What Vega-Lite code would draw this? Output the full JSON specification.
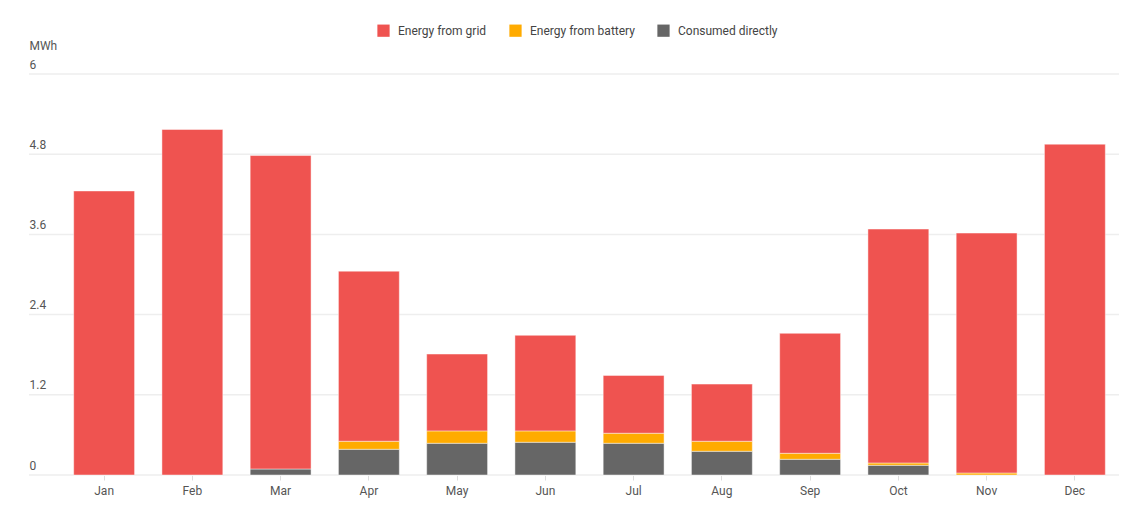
{
  "$schema": "https://vega.github.io/schema/vega-lite/v6.json",
  "width": 1090,
  "height": 401,
  "padding": {"top": 24, "left": 28, "right": 23, "bottom": 10},
  "background": "#ffffff",
  "datasets": {
    "energy": [
      {"month": "Jan", "series": "Energy from grid", "value": 4.25},
      {"month": "Feb", "series": "Energy from grid", "value": 5.17},
      {"month": "Mar", "series": "Consumed directly", "value": 0.09},
      {"month": "Mar", "series": "Energy from grid", "value": 4.69},
      {"month": "Apr", "series": "Consumed directly", "value": 0.385},
      {"month": "Apr", "series": "Energy from battery", "value": 0.12},
      {"month": "Apr", "series": "Energy from grid", "value": 2.545},
      {"month": "May", "series": "Consumed directly", "value": 0.475},
      {"month": "May", "series": "Energy from battery", "value": 0.185},
      {"month": "May", "series": "Energy from grid", "value": 1.15},
      {"month": "Jun", "series": "Consumed directly", "value": 0.49},
      {"month": "Jun", "series": "Energy from battery", "value": 0.17},
      {"month": "Jun", "series": "Energy from grid", "value": 1.43},
      {"month": "Jul", "series": "Consumed directly", "value": 0.475},
      {"month": "Jul", "series": "Energy from battery", "value": 0.15},
      {"month": "Jul", "series": "Energy from grid", "value": 0.865},
      {"month": "Aug", "series": "Consumed directly", "value": 0.355},
      {"month": "Aug", "series": "Energy from battery", "value": 0.15},
      {"month": "Aug", "series": "Energy from grid", "value": 0.855},
      {"month": "Sep", "series": "Consumed directly", "value": 0.235},
      {"month": "Sep", "series": "Energy from battery", "value": 0.09},
      {"month": "Sep", "series": "Energy from grid", "value": 1.795},
      {"month": "Oct", "series": "Consumed directly", "value": 0.145},
      {"month": "Oct", "series": "Energy from battery", "value": 0.035},
      {"month": "Oct", "series": "Energy from grid", "value": 3.5},
      {"month": "Nov", "series": "Energy from battery", "value": 0.03},
      {"month": "Nov", "series": "Energy from grid", "value": 3.59},
      {"month": "Dec", "series": "Energy from grid", "value": 4.95}
    ],
    "gridlines": [
      {"value": 0}, {"value": 1.2}, {"value": 2.4}, {"value": 3.6}, {"value": 4.8}, {"value": 6}
    ]
  },
  "layer": [
    {
      "data": {"name": "gridlines"},
      "mark": {"type": "rule", "color": "#eeeeee", "strokeWidth": 1.5},
      "encoding": {
        "y": {"field": "value", "type": "quantitative"}
      }
    },
    {
      "data": {"name": "energy"},
      "mark": {"type": "bar", "stroke": "#ffffff", "strokeWidth": 1, "strokeOpacity": 0.45},
      "encoding": {
        "x": {
          "field": "month",
          "type": "ordinal",
          "sort": ["Jan", "Feb", "Mar", "Apr", "May", "Jun", "Jul", "Aug", "Sep", "Oct", "Nov", "Dec"],
          "scale": {"range": [31, 1090], "paddingInner": 0.31, "paddingOuter": 0.155},
          "axis": {
            "title": null,
            "domain": false,
            "grid": false,
            "labelAngle": 0,
            "tickSize": 5,
            "tickColor": "#dddddd",
            "labelPadding": 5,
            "labelFont": "Roboto",
            "labelFontSize": 12,
            "labelColor": "#555555"
          }
        },
        "y": {
          "field": "value",
          "type": "quantitative",
          "stack": "zero",
          "scale": {"domain": [0, 6], "nice": false},
          "axis": {
            "values": [0, 1.2, 2.4, 3.6, 4.8, 6],
            "format": ".2~f",
            "title": "MWh",
            "titleAngle": 0,
            "titleAlign": "left",
            "titleBaseline": "bottom",
            "titleX": 0,
            "titleY": -22,
            "titleFont": "Roboto",
            "titleFontSize": 12,
            "titleFontWeight": "normal",
            "titleColor": "#555555",
            "grid": false,
            "domain": false,
            "ticks": false,
            "tickSize": 0,
            "labelPadding": 0,
            "labelAlign": "left",
            "labelBaseline": "bottom",
            "labelOffset": -3,
            "labelFont": "Roboto",
            "labelFontSize": 12,
            "labelColor": "#555555"
          }
        },
        "color": {
          "field": "series",
          "type": "nominal",
          "scale": {
            "domain": ["Energy from grid", "Energy from battery", "Consumed directly"],
            "range": ["#ef5350", "#ffab00", "#666666"]
          },
          "legend": {
            "title": null,
            "orient": "none",
            "legendX": 348,
            "legendY": -50,
            "direction": "horizontal",
            "symbolType": "square",
            "symbolSize": 150,
            "symbolStrokeWidth": 0,
            "labelFont": "Roboto",
            "labelFontSize": 12,
            "labelColor": "#444444",
            "columnPadding": 22,
            "labelOffset": 8
          }
        },
        "order": {"field": "series", "sort": "ascending"}
      }
    }
  ],
  "config": {
    "view": {"stroke": null},
    "font": "Roboto"
  }
}
